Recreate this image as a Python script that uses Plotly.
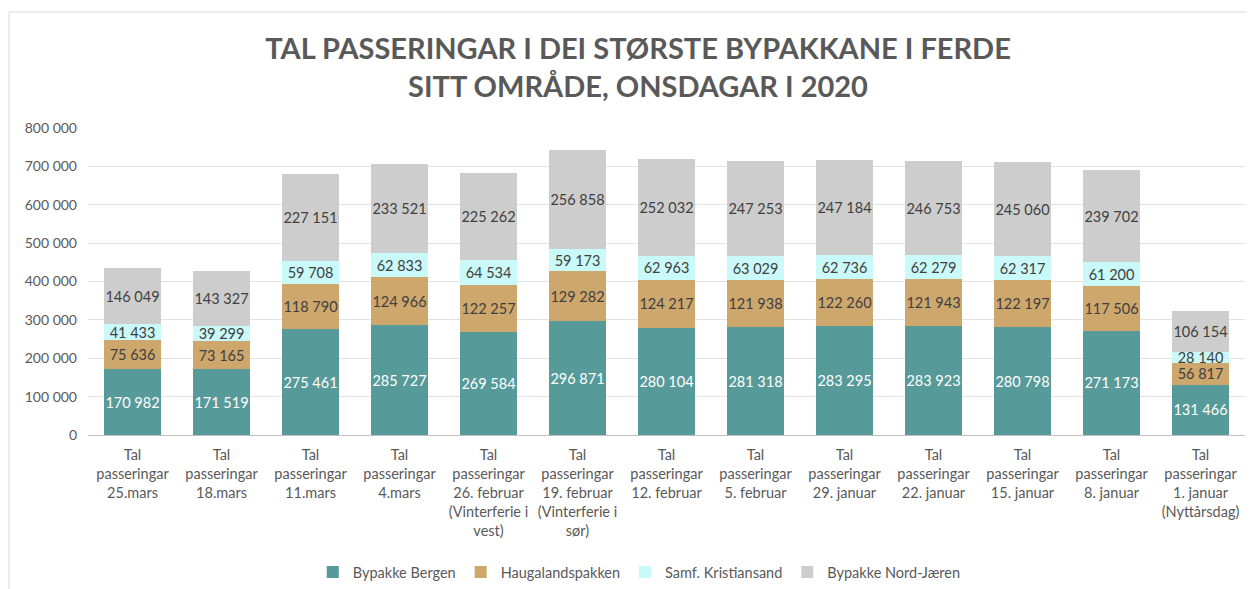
import plotly.graph_objects as go

categories = [
    "Tal<br>passeringar<br>25.mars",
    "Tal<br>passeringar<br>18.mars",
    "Tal<br>passeringar<br>11.mars",
    "Tal<br>passeringar<br>4.mars",
    "Tal<br>passeringar<br>26. februar<br>(Vinterferie i<br>vest)",
    "Tal<br>passeringar<br>19. februar<br>(Vinterferie i<br>sør)",
    "Tal<br>passeringar<br>12. februar",
    "Tal<br>passeringar<br>5. februar",
    "Tal<br>passeringar<br>29. januar",
    "Tal<br>passeringar<br>22. januar",
    "Tal<br>passeringar<br>15. januar",
    "Tal<br>passeringar<br>8. januar",
    "Tal<br>passeringar<br>1. januar<br>(Nyttårsdag)",
]

bergen = [170982, 171519, 275461, 285727, 269584, 296871, 280104, 281318, 283295, 283923, 280798, 271173, 131466]
haugaland = [75636, 73165, 118790, 124966, 122257, 129282, 124217, 121938, 122260, 121943, 122197, 117506, 56817]
kristiansand = [41433, 39299, 59708, 62833, 64534, 59173, 62963, 63029, 62736, 62279, 62317, 61200, 28140]
nordjaeren = [146049, 143327, 227151, 233521, 225262, 256858, 252032, 247253, 247184, 246753, 245060, 239702, 106154]

series = [
    ("Bypakke Bergen", bergen, "#569A99", "#ffffff"),
    ("Haugalandspakken", haugaland, "#CDA76C", "#404040"),
    ("Samf. Kristiansand", kristiansand, "#CAF9F9", "#404040"),
    ("Bypakke Nord-Jæren", nordjaeren, "#CDCDCD", "#404040"),
]

FONT = "Lato"
W, H = 1255, 589
ML, MR, MT, MB = 80, 18, 120, 162
PW, PH = W - ML - MR, H - MT - MB

fig = go.Figure()
for name, vals, color, tcolor in series:
    fig.add_trace(go.Bar(
        name=name,
        x=categories,
        y=vals,
        marker=dict(color=color, line=dict(width=0)),
        texttemplate="%{y:,}",
        textposition="inside",
        insidetextanchor="middle",
        textangle=0,
        constraintext="none",
        textfont=dict(family=FONT, size=14.5, color=tcolor),
        hoverinfo="name+y",
    ))

fig.update_layout(
    barmode="stack",
    bargap=0.35,
    width=W,
    height=H,
    separators=", ",
    paper_bgcolor="white",
    plot_bgcolor="white",
    font=dict(family=FONT, size=13, color="#595959"),
    uniformtext=dict(minsize=14.5, mode="show"),
    margin=dict(l=ML, r=MR, t=MT, b=MB, autoexpand=False),
    title=dict(
        text="TAL PASSERINGAR I DEI STØRSTE BYPAKKANE I FERDE<br>SITT OMRÅDE, ONSDAGAR I 2020",
        x=0.502, xanchor="center",
        y=1 - 51 / H, yanchor="top",
        font=dict(family=FONT, size=29, color="#595959", weight="bold"),
    ),
    xaxis=dict(
        type="category",
        automargin=False,
        showgrid=False,
        showline=True,
        linecolor="#BFBFBF",
        linewidth=1,
        ticks="",
        ticklabelstandoff=7,
        tickfont=dict(family=FONT, size=14.5, color="#595959"),
        tickangle=0,
    ),
    yaxis=dict(
        automargin=False,
        range=[0, 800000],
        dtick=100000,
        tickformat=",",
        showgrid=True,
        gridcolor="#E3E3E3",
        gridwidth=1,
        zeroline=False,
        showline=False,
        ticks="",
        ticklabelstandoff=10,
        tickfont=dict(family=FONT, size=14, color="#595959"),
    ),
    legend=dict(
        orientation="h",
        x=0.503, xanchor="center", xref="container",
        y=1 - 564 / H, yanchor="middle", yref="container",
        font=dict(family=FONT, size=14.5, color="#595959"),
        traceorder="normal",
        itemwidth=30,
    ),
    shapes=[
        dict(type="rect", xref="paper", yref="paper",
             x0=(1 - ML) / PW, x1=(W + 10 - ML) / PW,
             y0=(H - MB - (H + 10)) / PH, y1=(H - MB - 4) / PH,
             line=dict(color="#D9D9D9", width=1), fillcolor="rgba(0,0,0,0)", layer="below"),
    ],
)

fig.write_html("out.html")
